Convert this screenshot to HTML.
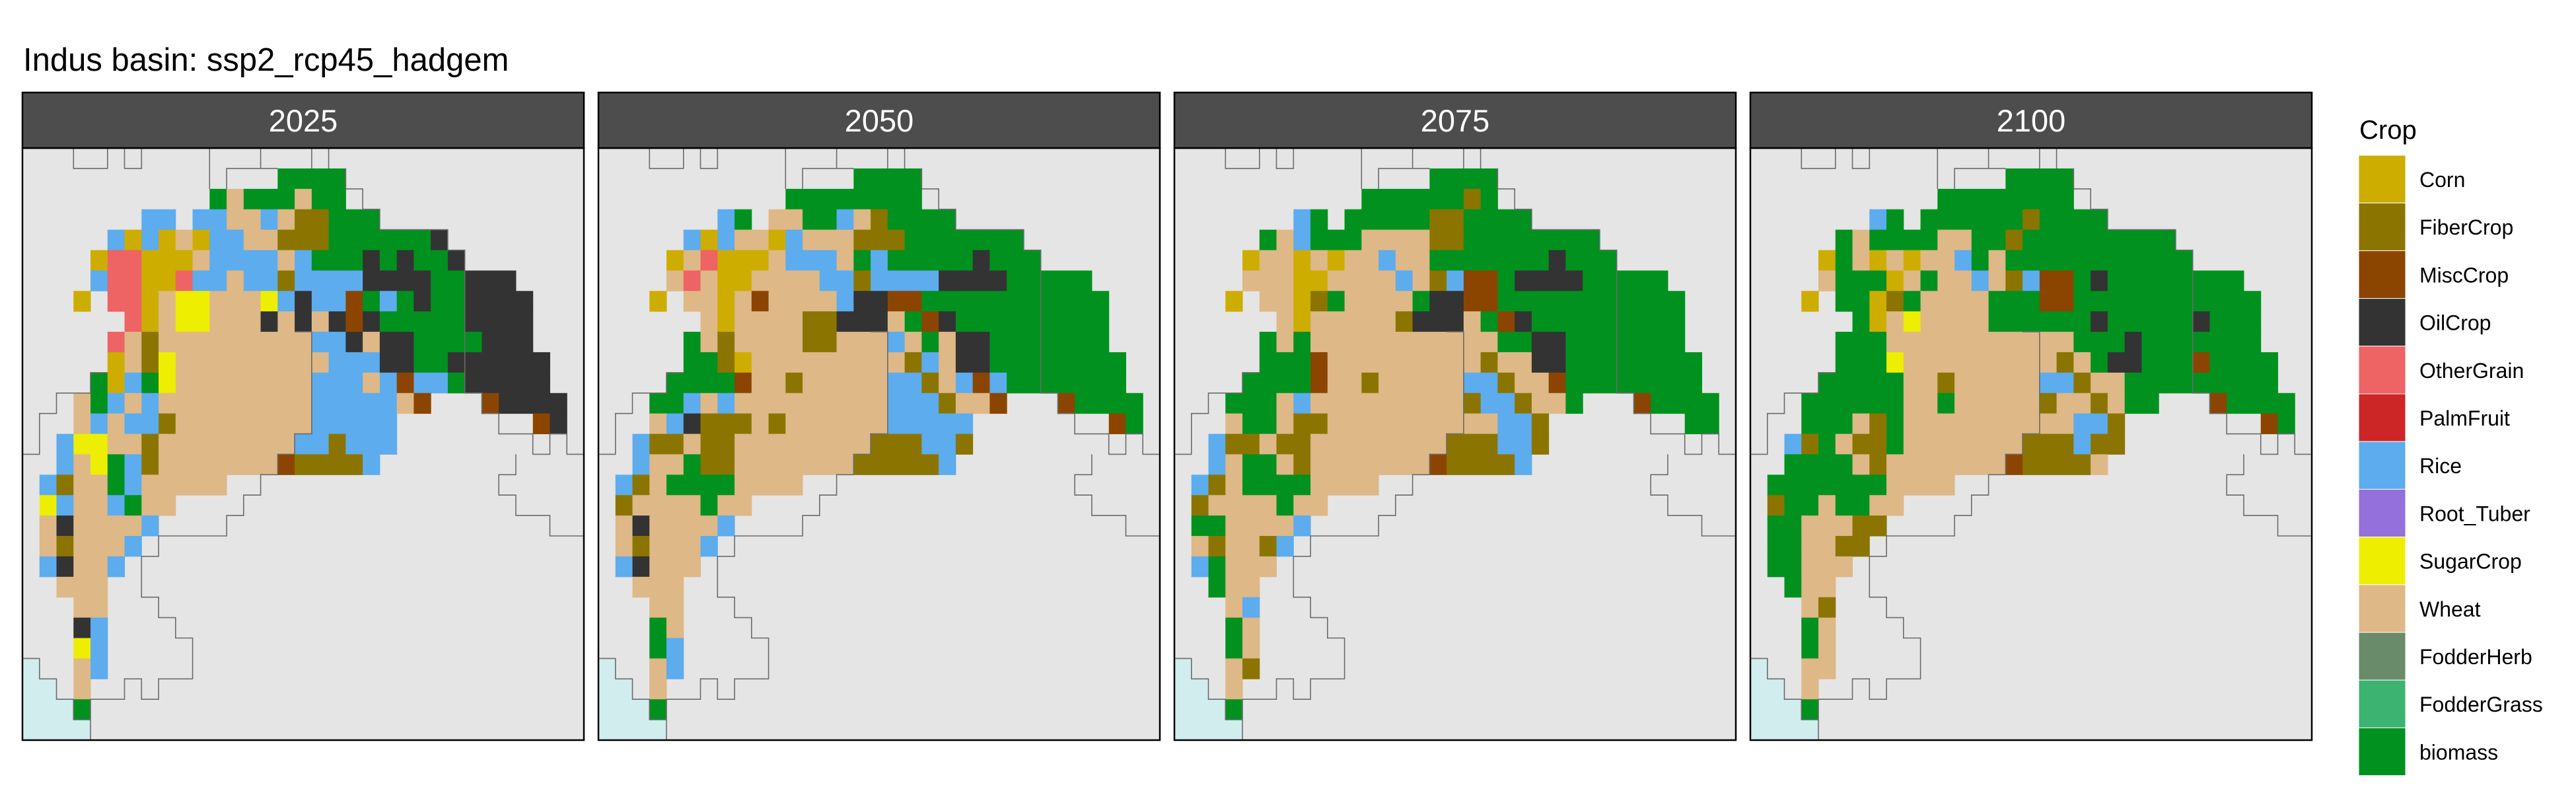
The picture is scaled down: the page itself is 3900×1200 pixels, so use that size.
<!DOCTYPE html>
<html><head><meta charset="utf-8"><style>
html,body{margin:0;padding:0;background:#fff;}
svg{display:block;font-family:"Liberation Sans",sans-serif;}
</style></head><body>
<svg id="chart" width="3900" height="1200" viewBox="0 0 3900 1200">
<text x="35" y="107" font-size="49" fill="#000">Indus basin: ssp2_rcp45_hadgem</text>
<g id="panels"></g>
<g id="legend"></g>
</svg>
<script>
const years = ["2025","2050","2075","2100"];
const cropNames = ["Corn","FiberCrop","MiscCrop","OilCrop","OtherGrain","PalmFruit","Rice","Root_Tuber","SugarCrop","Wheat","FodderHerb","FodderGrass","biomass"];
const cropCodes = ["C","F","M","O","G","P","R","T","S","W","H","A","B"];
const cropColors = ["#CDAD00","#8B7500","#8B4500","#333333","#EE6363","#CD2626","#5CACEE","#9370DB","#EEEE00","#DEB887","#698B69","#3CB371","#00911F"];
const grid2025 = ["","15-18B","11B 12W 13-15B 16W 17-18B","7-8R 10-11R 12-13W 14R 15W 16-17F 18-20B",
"5R 6C 7R 8C 9W 10C 11-12R 13-14W 15-17F 18-23B 24O",
"4C 5-6G 7-9C 10W 11-14R 15W 16R 17-19B 20O 21B 22O 23-24B 25O",
"4R 5-6G 7-8C 9G 10-11R 12W 13-14R 15F 16-19R 20-23O 24-25B 26-28O",
"3C 5-6G 7C 8W 9-10S 11-13W 14S 15R 16O 17-18R 19M 20B 21R 22B 23O 24-25B 26-29O",
"6G 7C 8W 9-10S 11-13W 14O 15W 16O 17W 18O 19M 20O 21-25B 26-29O",
"5G 6W 7F 8-16W 17-18R 19O 20W 21-22O 23-26B 27-29O",
"5C 6W 7F 8S 9-17W 18-20R 21-22O 23-24B 25-30O",
"4B 5C 6R 7B 8S 9-16W 17-19R 20W 21R 22M 23-24R 25B 26-30O",
"3W 4B 5R 6W 7R 8-16W 17-21R 22W 23M 27M 28-31O",
"3W 4R 5W 6-7R 8F 9-16W 17-21R 30M 31O",
"2R 3-4S 5-6W 7F 8-15W 16-17R 18F 19-21R",
"2R 3W 4S 5B 6R 7F 8-14W 15M 16-19F 20R",
"1R 2F 3-4W 5B 6R 7-11W","1S 2R 3-4W 5R 6B 7-8W","1W 2O 3-6W 7R","1W 2F 3-5W 6R","1R 2O 3-4W 5R",
"2-4W","3-4W","3O 4R","3S 4R","3W 4R","3W","3B"];
const grid2050 = ["","15-18B","11-18B","7R 8B 10-11W 12-13B 14R 15W 16F 17-20B",
"5R 6C 7R 8-9W 10C 11R 12-14W 15-17F 18-24B",
"4C 5W 6G 7-9C 10W 11-13R 14W 15B 16R 17-21B 22O 23-25B",
"4W 5G 6W 7-8C 9-12W 13-14R 15F 16-19R 20-23O 24-28B",
"3C 5-6W 7C 8W 9M 10-13W 14R 15-16O 17-18M 19-29B",
"6W 7C 8-11W 12-13F 14-16O 17W 18B 19M 20O 21-29B",
"5B 6W 7F 8-11W 12-13F 14-16W 17R 18W 19B 20W 21-22O 23-29B",
"5-6B 7F 8C 9-17W 18F 19R 20W 21-22O 23-30B",
"4-7B 8M 9-10W 11F 12-16W 17-18R 19F 20W 21R 22M 23R 24-30B",
"3-4B 5R 6W 7R 8-16W 17-19R 20F 21-22W 23M 27M 28-31B",
"3W 4R 5O 6-8F 9W 10F 11-16W 17-21R 30M 31B",
"2R 3-4F 5W 6-7F 8-15W 16-18F 19-20R 21F",
"2R 3-4W 5B 6-7F 8-14W 15-19F 20R",
"1R 2F 3W 4-7B 8-11W","1F 2-5W 6B 7-8W","1W 2O 3-6W 7R","1W 2F 3-5W 6R","1R 2O 3-5W",
"2-4W","3-4W","3B 4W","3B 4R","3W 4R","3W","3B"];
const grid2075 = ["","15-18B","11-16B 17F 18B","7R 8B 10B 11-14B 15-16F 17-20B",
"5B 6W 7R 8-10B 11-14W 15-16F 17-24B",
"4C 5-6W 7C 8W 9C 10-11W 12R 13-14W 15-21B 22O 23-25B",
"4-6W 7-8C 9-12W 13R 14W 15F 16R 17-18M 19B 20-23O 24-28B",
"3C 5-6W 7C 8F 9B 10-13W 14B 15-16O 17-18M 19-29B",
"6W 7C 8-12W 13F 14-16O 17W 18B 19M 20O 21-29B",
"5B 6W 7B 8-18W 19-20B 21-22O 23-29B",
"5-7B 8M 9-17W 18F 19-20W 21-22O 23-30B",
"4-7B 8M 9-10W 11F 12-16W 17-18R 19F 20-21W 22M 23-30B",
"3-5B 6W 7R 8-16W 17F 18-19R 20F 21-22W 23B 27M 28-31B",
"3W 4-5B 6W 7-8F 9-18W 19-20R 21F 30-31B",
"2R 3-4F 5W 6-7F 8-15W 16-18F 19-20R 21F",
"2R 3W 4-5B 6W 7F 8-14W 15M 16-19F 20R",
"1R 2F 3W 4-7B 8-11W","1F 2-5W 6B 7-8W","1-2B 3-6W 7R","1W 2F 3-4W 5F 6R","1R 2B 3-5W",
"2B 3-4W","3W 4R","3B 4W","3B 4W","3W 4F","3W","3B"];
const grid2100 = ["","15-18B","11-18B","7R 8B 10B 11-15B 16F 17-20B",
"5B 6W 7-10B 11-12W 13-14B 15F 16-24B",
"4C 5B 6W 7C 8W 9C 10-11W 12R 13B 14W 15-25B",
"4W 5-7B 8C 9W 10B 11-12W 13R 14W 15F 16R 17-18M 19B 20O 21-28B",
"3C 5-6B 7C 8F 9B 10-13W 14-16B 17-18M 19-29B",
"6B 7C 8W 9S 10-13W 14-19B 20O 21-25B 26O 27-29B",
"5-7B 8-18W 19-21B 22O 23-29B",
"5-7B 8S 9-17W 18F 19W 20B 21-22O 23-25B 26M 27-30B",
"4-8B 9-10W 11F 12-16W 17-18R 19F 20-21W 22-30B",
"3-8B 9-10W 11B 12-16W 17F 18-19W 20F 21W 22-23B 27M 28-31B",
"3-5B 6W 7F 8B 9-18W 19-20R 21F 30M 31B",
"2R 3F 4B 5W 6-7F 8B 9-15W 16-18F 19R 20-21F",
"2-5B 6W 7F 8-14W 15M 16-19F 20W",
"1-7B 8-11W","1F 2-3B 4W 5-6B 7-8W","1-2B 3-5W 6-7F","1-2B 3-4W 5-6F","1-2B 3-5W",
"2B 3-4W","3W 4F","3B 4W","3B 4W","3-4W","3W","3B"];
const grids = [grid2025, grid2050, grid2075, grid2100];
// basin boundary outlines in (col,row) grid units
const outlines = [
 [[3,0],[3,1],[5,1],[5,0]],
 [[6,0],[6,1],[7,1],[7,0]],
 [[11,0],[11,2]],
 [[12,2],[12,1],[15,1]],
 [[14,0],[14,1]],[[17,0],[17,1]],[[18,0],[18,1]],
 [[19,1],[19,2],[20,2],[20,3],[21,3],[21,4],[25,4],[25,5],[26,5],[26,6]],
 [[26,6],[26,12],[27,12],[27,13],[28,13],[28,14],[30,14],[30,15],[31,15],[31,14],[32,14],[32,15],[33,15]],
 [[29,15],[29,16],[28,16],[28,17],[29,17],[29,18],[31,18],[31,19],[33,19]],
 [[0,15],[1,15],[1,13],[2,13],[2,12],[4,12],[4,11],[5,11]],
 [[15,16],[14,16],[14,17],[13,17],[13,18],[12,18],[12,19],[8,19],[8,20],[7,20],[7,22],[8,22],[8,23],[9,23],[9,24],[10,24],[10,26],[8,26],[8,27],[7,27],[7,26],[6,26],[6,27],[4,27],[4,29]],
 [[0,25],[1,25],[1,26],[2,26],[2,27],[3,27],[3,28],[4,28]],
 [[16,9],[17,9],[17,14],[16,14],[16,15],[15,15],[15,16]]
];

const NS = "http://www.w3.org/2000/svg";
const PL = 34, PSTEP = 872, PW = 850, STRIP_TOP = 140, BODY_TOP = 224, BODY_BOT = 1120;
const NCOL = 33, NROW = 29;
const cw = PW / NCOL, ch = (BODY_BOT - BODY_TOP) / NROW;
function xCol(p, c){ return PL + p*PSTEP + c*cw; }
function yRow(r){ return BODY_TOP + r*ch; }
function mk(tag, attrs, parent){ const e=document.createElementNS(NS,tag); for(const k in attrs) e.setAttribute(k,attrs[k]); parent.appendChild(e); return e; }

const panelsG = document.getElementById("panels");
years.forEach((yr, p) => {
  const g = mk("g", {}, panelsG);
  
  
  const bg = mk("rect", {x:xCol(p,0), y:BODY_TOP, width:PW, height:BODY_BOT-BODY_TOP, fill:"#E5E5E5"}, g);
  
  
  [[25,1],[26,2],[27,3],[28,4]].forEach(([r,n]) => {
    const w = mk("rect", {x:xCol(p,0), y:yRow(r), width:n*cw, height:ch+0.5, fill:"#D1EDED"}, g);
    
    
  });
  grids[p].forEach((row, r) => {
    if (!row) return;
    row.split(" ").forEach(seg => {
      const m = seg.match(/^(\d+)(?:-(\d+))?([A-Z])$/);
      if (!m) return;
      const c0 = +m[1], c1 = m[2] ? +m[2] : c0;
      const idx = cropCodes.indexOf(m[3]);
      const cell = mk("rect", {x:xCol(p,c0), y:yRow(r), width:(c1-c0+1)*cw+0.5, height:ch+0.5, fill:cropColors[idx]}, g);
      
      
    });
  });
  outlines.forEach(pts => {
    const d = pts.map(([c,r]) => xCol(p,c).toFixed(1) + "," + yRow(r).toFixed(1)).join(" ");
    const pl = mk("polyline", {points:d, fill:"none", stroke:"#6b6b6b", "stroke-width":1.6}, g);
    
    
  });
  const border = mk("rect", {x:xCol(p,0), y:BODY_TOP, width:PW, height:BODY_BOT-BODY_TOP, fill:"none", stroke:"#000", "stroke-width":2.5}, g);
  
  
  const strip = mk("rect", {x:xCol(p,0), y:STRIP_TOP, width:PW, height:BODY_TOP-STRIP_TOP, fill:"#4D4D4D", stroke:"#000", "stroke-width":2.5}, g);
  
  
  const st = mk("text", {x:xCol(p,0)+PW/2, y:199, "font-size":47, fill:"#fff", "text-anchor":"middle"}, g);
  st.textContent = yr;
  
  
});

const leg = document.getElementById("legend");
const lt = mk("text", {x:3572, y:210, "font-size":40, fill:"#000"}, leg);
lt.textContent = "Crop";


cropNames.forEach((n, i) => {
  const y = 235 + i*72.2;
  const k = mk("rect", {x:3571, y:y, width:71, height:72.2, fill:cropColors[i], stroke:"#fff", "stroke-width":1}, leg);
  
  
  const t = mk("text", {x:3663, y:y+48, "font-size":32, fill:"#000"}, leg);
  t.textContent = n;
  
  
});
</script>
</body></html>
